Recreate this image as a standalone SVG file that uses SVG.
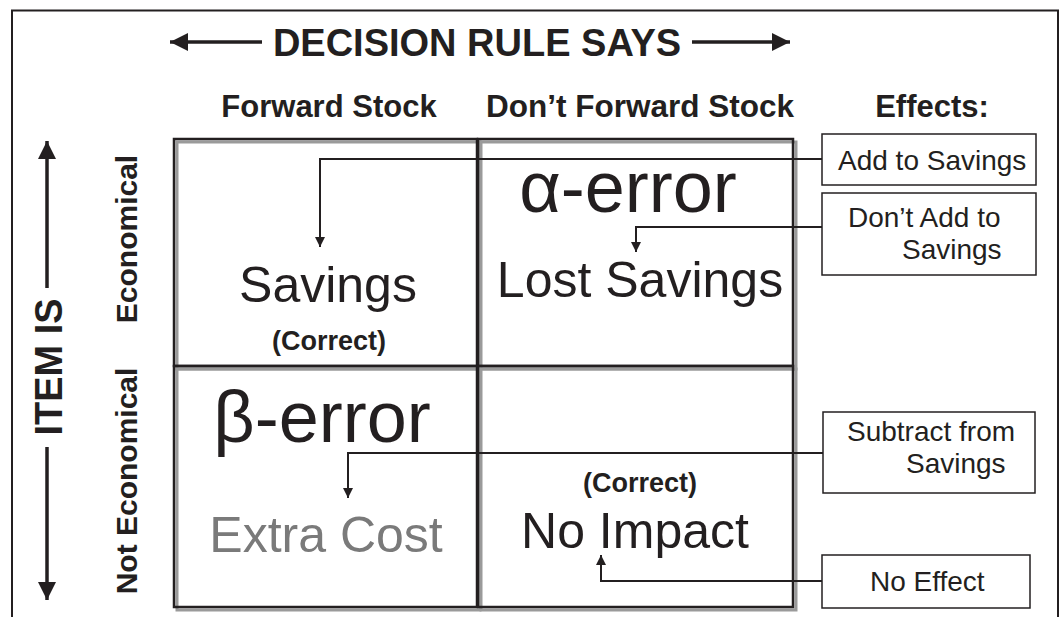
<svg xmlns="http://www.w3.org/2000/svg" width="1062" height="617" viewBox="0 0 1062 617">
<style>
.t{font-family:"Liberation Sans",Arial,Helvetica,sans-serif;fill:#231f20}
.b{font-weight:bold}
.c{text-anchor:middle}
.cell{fill:none;stroke:#231f20;stroke-width:2.5}
.shadow{fill:none;stroke:#9a9a9a;stroke-width:3}
.box{fill:#fff;stroke:#231f20;stroke-width:1.5}
.conn{fill:none;stroke:#231f20;stroke-width:2}
.big{fill:none;stroke:#231f20;stroke-width:3.5}
.bx{font-size:28px}
</style>
<defs>
<marker id="ah" markerUnits="userSpaceOnUse" markerWidth="10" markerHeight="10" refX="10" refY="5" orient="auto">
<path d="M0,0 L10,5 L0,10 z" fill="#231f20"/>
</marker>
<marker id="bh" markerUnits="userSpaceOnUse" markerWidth="18" markerHeight="18" refX="18" refY="9" orient="auto">
<path d="M0,0 L18,9 L0,18 z" fill="#231f20"/>
</marker>
</defs>
<rect width="1062" height="617" fill="#fff"/>
<path d="M12,617 V10.5 H1058 V617" fill="none" stroke="#231f20" stroke-width="2"/>

<g id="header">
<text class="t b c" x="477" y="56" font-size="38">DECISION RULE SAYS</text>
<path class="big" d="M262,42 H170" marker-end="url(#bh)"/>
<path class="big" d="M692,42 H790" marker-end="url(#bh)"/>
<text class="t b c" x="329" y="117" font-size="31">Forward Stock</text>
<text class="t b c" x="640" y="117" font-size="31.5">Don’t Forward Stock</text>
<text class="t b c" x="932" y="117" font-size="31">Effects:</text>
</g>

<g id="side">
<path class="big" d="M47,288 V141" marker-end="url(#bh)"/>
<path class="big" d="M47,447 V600" marker-end="url(#bh)"/>
<text class="t b c" transform="translate(62,367) rotate(-90)" font-size="38">ITEM IS</text>
<text class="t b c" transform="translate(137,239) rotate(-90)" font-size="30">Economical</text>
<text class="t b c" transform="translate(137,481) rotate(-90)" font-size="30">Not Economical</text>
</g>

<g id="cell-tl">
<rect class="shadow" x="177" y="142" width="303" height="227"/>
<rect class="cell" x="174" y="139" width="303" height="227"/>
<text class="t c" x="328" y="302" font-size="50">Savings</text>
<text class="t b c" x="329" y="350" font-size="27">(Correct)</text>
</g>
<g id="cell-tr">
<rect class="shadow" x="481" y="142" width="315" height="227"/>
<rect class="cell" x="478" y="139" width="315" height="227"/>
<text class="t c" x="628" y="212" font-size="72">α-error</text>
<text class="t c" x="640" y="297" font-size="50">Lost Savings</text>
</g>
<g id="cell-bl">
<rect class="shadow" x="177" y="369" width="303" height="241"/>
<rect class="cell" x="174" y="366" width="303" height="241"/>
<text class="t c" x="322" y="442" font-size="72">β-error</text>
<text class="t c" x="326" y="552" font-size="50" style="fill:#7a7a7a">Extra Cost</text>
</g>
<g id="cell-br">
<rect class="shadow" x="481" y="369" width="315" height="241"/>
<rect class="cell" x="478" y="366" width="315" height="241"/>
<text class="t b c" x="640" y="492" font-size="27">(Correct)</text>
<text class="t c" x="635" y="548" font-size="50">No Impact</text>
</g>

<g id="connectors">
<path class="conn" d="M823,159 H320 V247" marker-end="url(#ah)"/>
<path class="conn" d="M823,227 H636 V252" marker-end="url(#ah)"/>
<path class="conn" d="M825,453 H348 V498" marker-end="url(#ah)"/>
<path class="conn" d="M824,581 H601 V555" marker-end="url(#ah)"/>
</g>

<g id="box-add">
<rect class="box" x="822" y="134" width="214" height="51"/>
<text class="t bx" x="838" y="170">Add to Savings</text>
</g>
<g id="box-dont">
<rect class="box" x="822" y="193" width="214" height="82"/>
<text class="t bx" x="848" y="227">Don’t Add to</text>
<text class="t bx" x="902" y="259">Savings</text>
</g>
<g id="box-subtract">
<rect class="box" x="823" y="412" width="212" height="81"/>
<text class="t bx" x="847" y="441">Subtract from</text>
<text class="t bx" x="906" y="473">Savings</text>
</g>
<g id="box-noeffect">
<rect class="box" x="822" y="555" width="208" height="53"/>
<text class="t bx" x="870" y="591">No Effect</text>
</g>
</svg>
